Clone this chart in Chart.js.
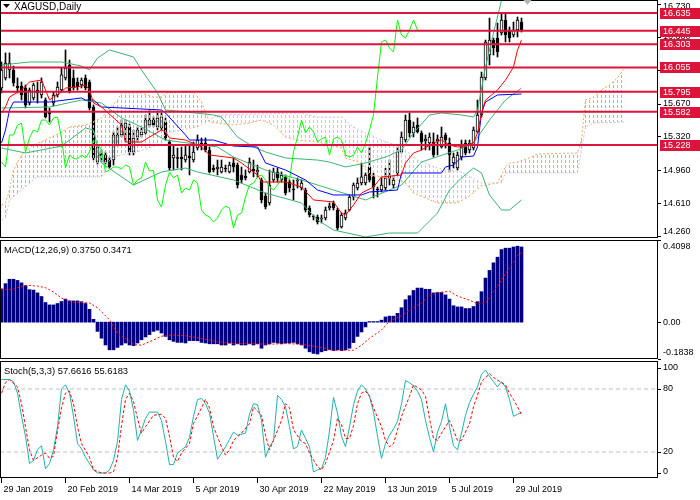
<!DOCTYPE html>
<html>
<head>
<meta charset="utf-8">
<script src="https://cdn.jsdelivr.net/npm/chart.js@4.4.1/dist/chart.umd.min.js"></script>
<style>
  html, body { margin: 0; padding: 0; background: #fff; }
  #wrap { position: relative; width: 700px; height: 500px; overflow: hidden; }
  canvas { position: absolute; left: 0; }
</style>
</head>
<body>
<div id="wrap">
  <canvas id="priceChart" width="700" height="239" style="top:0"></canvas>
  <canvas id="macdChart" width="700" height="121" style="top:239px"></canvas>
  <canvas id="stochChart" width="700" height="140" style="top:360px"></canvas>
</div>
<script>
// ---- data (XAGUSD daily, bar 0 = 29 Jan 2019) ----
const dateBars = [0, 16, 32, 48, 64, 80, 96, 112, 128];
const dateLabels = ['29 Jan 2019', '20 Feb 2019', '14 Mar 2019', '5 Apr 2019', '30 Apr 2019',
                    '22 May 2019', '13 Jun 2019', '5 Jul 2019', '29 Jul 2019'];
const priceTicks = [16.730, 16.380, 16.030, 15.670, 15.320, 14.960, 14.610, 14.260];
const levels = [16.635, 16.445, 16.303, 16.055, 15.795, 15.582, 15.228];

const opens = [
15.836,15.943,16.028,16.028,15.857,15.857,15.836,15.676,15.730,15.815,
15.762,15.708,15.581,15.676,15.762,15.815,15.943,16.081,15.943,15.900,
15.868,15.943,15.900,15.634,15.048,15.133,15.123,15.069,15.069,15.229,
15.336,15.410,15.421,15.155,15.314,15.336,15.357,15.442,15.495,15.421,
15.410,15.474,15.261,15.091,15.091,15.101,15.069,15.112,15.069,15.197,
15.250,15.250,15.176,14.984,14.974,14.942,14.984,14.942,15.038,15.016,
14.910,14.899,14.942,14.974,14.942,14.857,14.686,14.612,14.857,14.942,
14.857,14.889,14.835,14.761,14.846,14.771,14.750,14.558,14.473,14.463,
14.441,14.452,14.558,14.612,14.537,14.356,14.452,14.537,14.676,14.771,
14.825,14.825,14.995,14.889,14.761,14.750,14.771,14.878,14.803,14.931,
15.155,15.282,15.495,15.357,15.442,15.357,15.272,15.250,15.261,15.272,
15.208,15.336,15.250,15.038,14.984,15.101,15.250,15.176,15.197,15.368,
15.549,15.943,16.187,16.347,16.368,16.422,16.560,16.454,16.400,16.454,
16.539];
const highs = [
16.113,16.209,16.209,16.070,15.943,15.900,15.868,15.836,15.889,15.900,
15.943,15.730,15.623,15.793,15.900,16.049,16.241,16.134,16.028,15.943,
15.943,15.975,15.921,15.655,15.229,15.176,15.155,15.101,15.368,15.421,
15.495,15.495,15.453,15.389,15.421,15.410,15.549,15.602,15.527,15.581,
15.570,15.517,15.282,15.229,15.197,15.208,15.229,15.229,15.261,15.336,
15.304,15.304,15.208,15.016,15.069,15.069,15.016,15.048,15.091,15.038,
14.995,14.963,15.091,15.069,15.016,14.878,14.718,14.963,14.984,14.984,
14.942,14.910,14.857,14.857,14.878,14.857,14.771,14.580,14.484,14.484,
14.484,14.569,14.612,14.633,14.558,14.505,14.537,14.697,14.825,14.878,
15.038,14.931,15.208,14.931,14.782,14.889,14.984,15.069,14.899,15.208,
15.368,15.549,15.570,15.474,15.517,15.378,15.336,15.357,15.357,15.336,
15.421,15.357,15.304,15.144,15.155,15.282,15.282,15.282,15.421,15.708,
16.006,16.347,16.581,16.368,16.528,16.635,16.635,16.486,16.539,16.592,
16.581];
const lows = [
15.783,15.921,15.943,15.857,15.783,15.708,15.623,15.655,15.708,15.676,
15.730,15.517,15.474,15.644,15.740,15.793,15.921,15.783,15.815,15.815,
15.836,15.815,15.602,15.069,15.027,15.048,15.027,14.984,15.016,15.218,
15.314,15.261,15.123,15.123,15.261,15.314,15.346,15.421,15.421,15.389,
15.389,15.282,14.963,14.963,14.984,14.963,15.048,14.910,15.048,15.176,
15.176,15.155,14.931,14.942,14.910,14.931,14.942,14.931,14.942,14.771,
14.825,14.857,14.931,14.889,14.889,14.612,14.548,14.590,14.835,14.835,
14.835,14.697,14.729,14.644,14.771,14.750,14.516,14.463,14.431,14.388,
14.399,14.431,14.537,14.537,14.324,14.345,14.431,14.526,14.644,14.750,
14.803,14.803,14.835,14.665,14.676,14.729,14.750,14.803,14.771,14.910,
15.144,15.261,15.314,15.314,15.357,15.176,15.176,15.176,15.101,15.123,
15.197,15.197,14.942,14.984,14.963,15.069,15.123,15.144,15.176,15.357,
15.527,15.921,16.081,16.187,16.166,16.400,16.326,16.326,16.379,16.379,
16.432];
const closes = [
16.028,16.102,16.102,15.889,15.836,15.762,15.655,15.815,15.868,15.783,
15.900,15.527,15.559,15.762,15.847,15.975,16.049,15.793,15.836,15.847,
15.921,15.836,15.623,15.091,15.208,15.112,15.048,14.995,15.336,15.336,
15.442,15.463,15.155,15.304,15.389,15.368,15.495,15.495,15.442,15.517,
15.527,15.304,14.984,15.123,15.085,15.080,15.123,15.091,15.155,15.282,
15.240,15.176,14.942,14.963,14.995,14.995,14.974,15.016,14.995,14.803,
14.857,14.878,15.048,14.952,14.960,14.644,14.569,14.803,14.942,14.878,
14.910,14.718,14.771,14.750,14.857,14.825,14.537,14.484,14.463,14.409,
14.452,14.537,14.580,14.558,14.345,14.484,14.505,14.676,14.803,14.825,
14.889,14.910,14.857,14.782,14.750,14.803,14.878,14.899,14.857,15.155,
15.314,15.495,15.357,15.421,15.368,15.261,15.293,15.314,15.123,15.293,
15.314,15.282,15.123,15.101,15.123,15.208,15.144,15.250,15.389,15.549,
15.953,16.326,16.347,16.262,16.219,16.560,16.400,16.368,16.454,16.560,
16.454];

// indicator lines as [bar, value] vertices
const bbUpper = [[0,16.081],[7,16.113],[15,16.113],[20,16.070],[22,16.028],[24,16.155],[27,16.241],[33,16.166],
  [35,16.028],[39,15.783],[41,15.602],[46,15.581],[53,15.549],[55,15.527],[59,15.314],[63,15.208],[66,15.155],
  [71,15.091],[79,15.069],[82,15.048],[86,14.995],[91,15.038],[96,15.101],[100,15.176],[103,15.357],[107,15.549],
  [110,15.570],[115,15.549],[118,15.527],[119,15.600],[121,16.060],[123,16.420],[125,16.770],[130,17.300]];
const bbMiddle = [[0,15.623],[12,15.634],[20,15.708],[25,15.676],[30,15.517],[35,15.421],[41,15.282],[54,15.208],
  [58,15.101],[66,14.963],[75,14.857],[83,14.750],[91,14.644],[97,14.750],[100,14.803],[105,15.048],[114,15.176],
  [118,15.250],[122,15.495],[126,15.708],[130,15.836]];
const bbLower = [[0,15.197],[6,15.144],[15,15.218],[21,15.410],[23,15.389],[25,15.038],[33,14.803],[40,14.942],
  [46,14.984],[49,14.942],[58,14.857],[66,14.718],[75,14.612],[79,14.431],[83,14.324],[91,14.250],[97,14.292],
  [104,14.292],[109,14.505],[112,14.750],[115,14.878],[118,14.984],[120,14.931],[122,14.697],[125,14.537],
  [127,14.537],[130,14.644]];
const tenkan = [[0,15.570],[1,15.634],[2,15.740],[5,15.815],[7,15.900],[10,15.921],[11,15.815],[12,15.708],[13,15.740],
  [15,15.793],[16,15.836],[19,15.847],[21,15.868],[22,15.815],[23,15.676],[25,15.634],[30,15.442],[31,15.261],
  [35,15.261],[37,15.314],[40,15.389],[41,15.368],[42,15.304],[46,15.282],[50,15.208],[52,15.123],[58,15.091],
  [60,15.038],[64,14.910],[65,14.835],[71,14.835],[75,14.782],[78,14.644],[83,14.622],[85,14.505],[86,14.484],
  [88,14.590],[90,14.718],[93,14.782],[95,14.889],[100,14.910],[101,15.038],[103,15.144],[105,15.176],[108,15.250],
  [110,15.282],[112,15.229],[114,15.208],[116,15.218],[118,15.250],[119,15.357],[120,15.570],[121,15.708],
  [124,15.815],[126,15.921],[128,16.060],[129,16.241],[130,16.347]];
const kijun = [[0,15.250],[1,15.389],[2,15.602],[3,15.687],[12,15.687],[20,15.730],[21,15.708],[23,15.708],[25,15.634],
  [40,15.602],[41,15.570],[46,15.336],[47,15.282],[53,15.282],[58,15.218],[64,15.208],[66,15.038],[71,14.963],
  [76,14.857],[79,14.750],[83,14.697],[90,14.697],[92,14.729],[99,14.750],[100,14.931],[110,14.931],[111,14.995],
  [113,15.016],[115,15.101],[118,15.112],[119,15.208],[120,15.570],[121,15.687],[124,15.762],[130,15.772]];
const chikou = [
15.048,14.995,15.336,15.336,15.442,15.463,15.155,15.304,15.389,15.368,
15.495,15.495,15.442,15.517,15.527,15.304,14.984,15.123,15.085,15.080,
15.123,15.091,15.155,15.282,15.240,15.176,14.942,14.963,14.995,14.995,
14.974,15.016,14.995,14.803,14.857,14.878,15.048,14.952,14.960,14.644,
14.569,14.803,14.942,14.878,14.910,14.718,14.771,14.750,14.857,14.825,
14.537,14.484,14.463,14.409,14.452,14.537,14.580,14.558,14.345,14.484,
14.505,14.676,14.803,14.825,14.889,14.910,14.857,14.782,14.750,14.803,
14.878,14.899,14.857,15.155,15.314,15.495,15.357,15.421,15.368,15.261,
15.293,15.314,15.123,15.293,15.314,15.282,15.123,15.101,15.123,15.208,
15.144,15.250,15.389,15.549,15.953,16.326,16.347,16.262,16.219,16.560,
16.400,16.368,16.454,16.560,16.454];
const senkouA = [[0,14.590],[1,14.612],[2,14.750],[3,14.963],[5,15.123],[8,15.229],[12,15.304],[15,15.368],[17,15.421],
  [21,15.442],[25,15.517],[27,15.623],[29,15.708],[30,15.783],[35,15.783],[38,15.740],[40,15.740],[41,15.783],
  [48,15.793],[50,15.687],[51,15.581],[52,15.474],[58,15.442],[62,15.463],[65,15.495],[68,15.442],[71,15.314],
  [74,15.282],[79,15.261],[85,15.197],[86,15.091],[90,15.038],[92,14.910],[99,14.857],[101,14.825],[103,14.718],
  [109,14.612],[114,14.612],[117,14.686],[120,14.793],[124,14.825],[126,14.995],[127,15.038],[129,15.048],
  [132,15.091],[134,15.133],[144,15.144],[145,15.282],[146,15.708],[148,15.740],[150,15.815],[152,15.868],
  [154,15.943],[155,16.006],[156,16.060]];
const senkouB = [[0,14.431],[1,14.452],[2,14.644],[5,14.750],[8,14.857],[9,14.889],[25,14.889],[26,14.963],[27,15.069],
  [30,15.123],[33,15.144],[37,15.197],[40,15.250],[41,15.357],[45,15.389],[49,15.421],[52,15.495],[54,15.549],
  [75,15.570],[79,15.527],[85,15.527],[88,15.421],[91,15.357],[95,15.282],[100,15.208],[104,15.069],[109,14.984],
  [115,14.942],[120,14.825],[125,14.825],[126,14.931],[144,14.931],[145,15.176],[146,15.421],[148,15.463],
  [156,15.474]];

const macdHist = [
0.166,0.192,0.214,0.214,0.208,0.196,0.182,0.162,0.160,0.146,
0.128,0.098,0.086,0.086,0.093,0.103,0.115,0.106,0.106,0.106,
0.102,0.093,0.064,0.014,-0.046,-0.080,-0.114,-0.138,-0.138,-0.126,
-0.114,-0.104,-0.114,-0.117,-0.104,-0.088,-0.074,-0.062,-0.046,-0.040,
-0.054,-0.071,-0.088,-0.096,-0.101,-0.101,-0.104,-0.092,-0.092,-0.093,
-0.101,-0.104,-0.108,-0.108,-0.108,-0.114,-0.114,-0.104,-0.114,-0.108,
-0.114,-0.114,-0.108,-0.114,-0.108,-0.130,-0.114,-0.108,-0.101,-0.104,
-0.108,-0.104,-0.104,-0.101,-0.108,-0.114,-0.130,-0.148,-0.156,-0.159,
-0.148,-0.142,-0.138,-0.142,-0.138,-0.142,-0.138,-0.130,-0.102,-0.071,
-0.049,-0.024,0.003,0.003,0.003,0.010,0.026,0.030,0.030,0.044,
0.072,0.112,0.132,0.158,0.170,0.170,0.164,0.164,0.146,0.148,
0.148,0.136,0.115,0.082,0.076,0.076,0.068,0.068,0.078,0.102,
0.152,0.220,0.258,0.296,0.324,0.362,0.369,0.369,0.375,0.379,
0.375];
const macdSignal = [[0,0.160],[3,0.165],[6,0.184],[9,0.180],[11,0.172],[13,0.150],[15,0.120],[18,0.100],[22,0.096],
  [24,0.072],[27,0.012],[29,-0.056],[31,-0.081],[33,-0.112],[35,-0.115],[38,-0.089],[40,-0.070],[43,-0.064],
  [46,-0.068],[50,-0.081],[54,-0.098],[58,-0.107],[63,-0.107],[67,-0.110],[71,-0.107],[75,-0.110],[79,-0.123],
  [83,-0.140],[88,-0.140],[90,-0.115],[92,-0.081],[95,-0.039],[97,0.004],[100,0.032],[102,0.059],[105,0.096],
  [107,0.130],[109,0.147],[112,0.154],[114,0.130],[117,0.110],[119,0.091],[121,0.096],[122,0.122],[124,0.181],
  [126,0.241],[128,0.300],[129,0.333],[130,0.347]];
const macdTicks = [0.4098, 0, -0.1838];
const macdTickLabels = ['0.4098', '0.00', '-0.1838'];

const stochMain = [[0,89],[2,89],[3,87],[4,76],[5,54],[6,35],[7,9],[8,12],[9,22],[10,26],[11,4],[12,9],[13,22],
  [14,44],[15,80],[16,84],[17,76],[18,54],[19,28],[20,23],[21,15],[23,3],[24,0],[26,0],[27,3],[28,12],[29,30],
  [30,70],[31,84],[32,78],[33,60],[34,31],[35,41],[36,52],[37,58],[39,58],[40,50],[41,30],[42,8],[43,8],[44,19],
  [45,22],[46,25],[47,34],[48,54],[49,70],[50,71],[51,66],[52,57],[53,35],[54,13],[55,19],[56,25],[57,32],[58,39],
  [59,36],[61,38],[62,56],[63,66],[64,65],[65,50],[66,15],[67,25],[68,31],[69,74],[70,70],[71,63],[72,44],[73,23],
  [74,25],[75,41],[76,33],[77,25],[78,1],[79,3],[80,4],[81,15],[82,40],[83,72],[84,57],[85,35],[86,25],[87,44],
  [88,65],[89,78],[90,84],[91,80],[92,73],[93,58],[94,35],[95,14],[96,28],[97,36],[98,42],[99,49],[100,66],
  [101,88],[102,86],[103,83],[104,78],[105,70],[106,50],[107,34],[108,20],[109,39],[110,49],[111,66],[112,44],
  [113,26],[114,22],[115,38],[116,55],[117,67],[118,75],[119,82],[120,94],[121,98],[122,92],[123,87],[124,82],
  [125,87],[126,82],[127,70],[128,54],[129,56],[130,57.66]];
const stochSignal = [[0,76],[1,86],[2,89],[4,82],[5,66],[6,44],[7,22],[8,12],[10,17],[11,19],[12,14],[13,16],[14,40],
  [15,62],[16,76],[17,78],[18,66],[19,44],[20,28],[22,15],[23,3],[25,0],[27,0],[28,1],[29,15],[30,45],[31,70],
  [32,76],[33,68],[34,52],[35,38],[36,44],[38,55],[40,56],[41,52],[42,35],[43,15],[44,11],[45,19],[47,28],[48,47],
  [50,62],[51,70],[52,62],[53,44],[55,25],[56,17],[57,22],[58,31],[60,38],[62,47],[63,63],[65,55],[66,36],[67,22],
  [68,31],[70,50],[71,66],[72,62],[73,41],[75,30],[76,28],[77,19],[79,6],[80,3],[81,9],[83,31],[84,52],[85,46],
  [86,33],[87,33],[88,45],[89,66],[90,76],[91,78],[92,73],[93,62],[95,44],[96,31],[97,25],[98,28],[99,41],[100,54],
  [102,73],[103,84],[105,79],[106,73],[107,52],[108,33],[109,31],[110,38],[112,50],[113,41],[114,31],[115,31],
  [117,47],[118,63],[119,74],[120,87],[122,94.5],[123,91],[125,86],[126,84],[127,76],[128,70],[129,63],[130,55.62]];
const stochTicks = [100, 80, 20, 0];
const stochLevels = [80, 20];

// ---- drawing ----
const FAMILY = '"Liberation Sans", Arial, sans-serif';
const FONT = '9px ' + FAMILY;
const CAPTION_FONT = '9.4px ' + FAMILY;
const TITLE_FONT = '10px ' + FAMILY;
const X_MIN = -0.375, X_MAX = 164.125;
Chart.defaults.font.family = FAMILY;

const pts = pairs => pairs.map(([x, y]) => ({ x, y }));
const line = (data, color, extra) => Object.assign({
  type: 'line', data, borderColor: color, borderWidth: 1, pointRadius: 0, fill: false, tension: 0
}, extra);
const hline = (v, color, extra) => line([{ x: X_MIN, y: v }, { x: X_MAX, y: v }], color, extra);

function xAxis(show) {
  return {
    type: 'linear', min: X_MIN, max: X_MAX, offset: false, display: show,
    grid: { display: show, drawOnChartArea: false, drawTicks: true, tickLength: 5, color: '#000' },
    border: { display: false },
    afterBuildTicks: s => { s.ticks = dateBars.map(v => ({ value: v })); },
    afterFit: s => { if (show) s.height = 22; },
    ticks: {
      autoSkip: false, maxRotation: 0, minRotation: 0, align: 'start', labelOffset: 2, padding: 1,
      color: '#000', font: { size: 9 },
      callback: v => dateLabels[dateBars.indexOf(v)]
    }
  };
}
function yAxis(min, max) {
  return {
    type: 'linear', position: 'right', min, max,
    grid: { display: false }, border: { display: false }, ticks: { display: false },
    afterFit: s => { s.width = 42; }
  };
}

const frame = {
  id: 'frame',
  afterDraw(chart) {
    const { ctx, chartArea: a } = chart;
    ctx.save();
    ctx.strokeStyle = '#000';
    ctx.lineWidth = 1;
    ctx.strokeRect(a.left + 0.5, a.top + 0.5, a.right - a.left - 1, a.bottom - a.top - 1);
    ctx.restore();
  }
};
function axisLabels(values, texts) {
  return {
    id: 'axisLabels',
    afterDraw(chart) {
      const { ctx, chartArea: a } = chart;
      const y = chart.scales.y;
      ctx.save();
      ctx.font = FONT;
      ctx.fillStyle = '#000';
      ctx.textBaseline = 'middle';
      ctx.textAlign = 'left';
      values.forEach((v, i) => {
        const py = y.getPixelForValue(v);
        const ly = Math.min(Math.max(py, a.top + 7), a.bottom - 6);
        ctx.fillRect(a.right, Math.round(py), 3, 1);
        ctx.fillText(texts[i], a.right + 5, ly);
      });
      ctx.restore();
    }
  };
}
function caption(text) {
  return {
    id: 'caption',
    afterDraw(chart) {
      const { ctx, chartArea: a } = chart;
      ctx.save();
      ctx.font = CAPTION_FONT;
      ctx.fillStyle = '#000';
      ctx.textBaseline = 'middle';
      ctx.fillText(text, 4, a.top + 10);
      ctx.restore();
    }
  };
}
const priceExtras = {
  id: 'priceExtras',
  afterDraw(chart) {
    const { ctx, chartArea: a } = chart;
    const y = chart.scales.y, x = chart.scales.x;
    ctx.save();
    // level boxes
    ctx.font = FONT;
    ctx.textBaseline = 'middle';
    levels.forEach(v => {
      const py = Math.round(y.getPixelForValue(v));
      ctx.fillStyle = '#DC143C';
      ctx.fillRect(a.right + 2, py - 5, 700 - a.right - 2, 11);
      ctx.fillStyle = '#fff';
      ctx.fillText(v.toFixed(3), a.right + 5, py + 0.5);
    });
    // title with window triangle
    ctx.fillStyle = '#000';
    ctx.beginPath();
    ctx.moveTo(3, 4); ctx.lineTo(10, 4); ctx.lineTo(6.5, 8); ctx.closePath(); ctx.fill();
    ctx.font = TITLE_FONT;
    ctx.fillText('XAGUSD,Daily', 14, 7);
    // chart shift marker
    const sx = x.getPixelForValue(131.5);
    ctx.fillStyle = '#B4B4B4';
    ctx.beginPath();
    ctx.moveTo(sx - 4, 0); ctx.lineTo(sx + 4, 0); ctx.lineTo(sx, 5); ctx.closePath(); ctx.fill();
    ctx.restore();
  }
};

// Ichimoku cloud is drawn by MT4 as dotted vertical strokes, one per bar
function dashPattern(ctx, color) {
  const c = document.createElement('canvas');
  c.width = 4; c.height = 5;
  const g = c.getContext('2d');
  g.fillStyle = color;
  g.fillRect(1, 0, 1, 3);
  return ctx.createPattern(c, 'repeat');
}

const baseOptions = {
  responsive: false, animation: false, events: [], devicePixelRatio: 1,
  plugins: { legend: { display: false }, tooltip: { enabled: false } }
};

// price window
const pctx = document.getElementById('priceChart').getContext('2d');
const orangeDots = dashPattern(pctx, '#F4A460');
const thistleDots = dashPattern(pctx, '#D8BFD8');
const idx = opens.map((_, i) => i);

new Chart(pctx, {
  type: 'line',
  data: {
    datasets: [
      ...levels.map(v => hline(v, '#DC143C', { borderWidth: 2, order: 0 })),
      line(pts(tenkan), '#FF0000', { order: 1 }),
      line(pts(kijun), '#0000FF', { order: 1 }),
      line(chikou.map((v, i) => ({ x: i, y: v })), '#00FF00', { order: 1 }),
      line(pts(bbUpper), '#3CB371', { order: 2 }),
      line(pts(bbMiddle), '#3CB371', { order: 2 }),
      line(pts(bbLower), '#3CB371', { order: 2 }),
      line(pts(senkouA), '#F4A460', { order: 3, borderDash: [2, 2],
        fill: { target: '+1', above: orangeDots, below: thistleDots } }),
      line(pts(senkouB), '#D8BFD8', { order: 3, borderDash: [2, 2] }),
      {
        type: 'bar', order: 5, grouped: false, barThickness: 3, minBarLength: 1,
        data: idx.map(i => ({ x: i, y: [opens[i], closes[i]] })),
        backgroundColor: c => closes[c.dataIndex] >= opens[c.dataIndex] ? '#FFFFFF' : '#000000',
        borderColor: '#000', borderWidth: 1, borderSkipped: false
      },
      {
        type: 'bar', order: 6, grouped: false, barThickness: 1,
        data: idx.map(i => ({ x: i, y: [lows[i], highs[i]] })),
        backgroundColor: '#000'
      }
    ]
  },
  options: Object.assign({}, baseOptions, {
    layout: { padding: { top: 0, bottom: 1, left: 0, right: 0 } },
    scales: { x: xAxis(false), y: yAxis(14.239, 16.773) }
  }),
  plugins: [frame, axisLabels(priceTicks, priceTicks.map(v => v.toFixed(3))), priceExtras]
});

// MACD window
new Chart(document.getElementById('macdChart'), {
  type: 'line',
  data: {
    datasets: [
      line(pts(macdSignal), '#FF0000', { order: 0, borderDash: [2, 2] }),
      {
        type: 'bar', order: 1, grouped: false, barThickness: 3,
        data: macdHist.map((v, i) => ({ x: i, y: v })),
        backgroundColor: '#000080'
      }
    ]
  },
  options: Object.assign({}, baseOptions, {
    layout: { padding: { top: 1, bottom: 1, left: 0, right: 0 } },
    scales: { x: xAxis(false), y: yAxis(-0.1838, 0.4098) }
  }),
  plugins: [frame, axisLabels(macdTicks, macdTickLabels), caption('MACD(12,26,9) 0.3750 0.3471')]
});

// Stochastic window
new Chart(document.getElementById('stochChart'), {
  type: 'line',
  data: {
    datasets: [
      ...stochLevels.map(v => hline(v, '#C0C0C0', { order: 3, borderDash: [4, 3] })),
      line(pts(stochSignal), '#FF0000', { order: 0, borderDash: [3, 2] }),
      line(pts(stochMain), '#20B2AA', { order: 1 })
    ]
  },
  options: Object.assign({}, baseOptions, {
    layout: { padding: { top: 1, bottom: 0, left: 0, right: 0 } },
    scales: { x: xAxis(true), y: yAxis(-4.76, 106.67) }
  }),
  plugins: [frame, axisLabels(stochTicks, stochTicks.map(String)), caption('Stoch(5,3,3) 57.6616 55.6183')]
});
</script>
</body>
</html>
